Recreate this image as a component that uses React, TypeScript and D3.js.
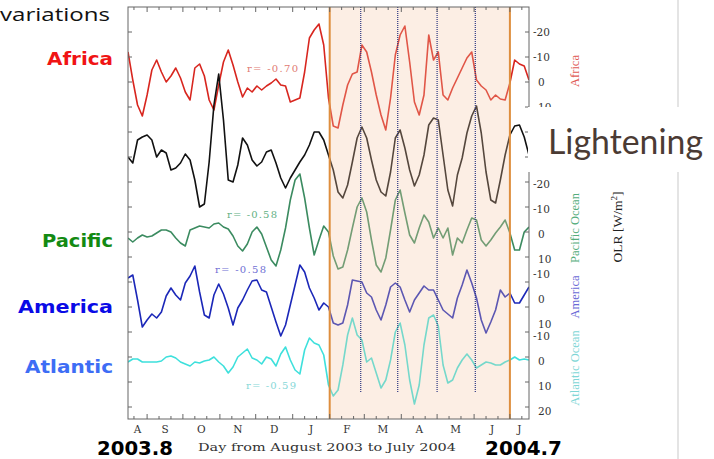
import React from "react";
import * as d3 from "d3";

// sampling: one value every 4 days starting 16 Aug 2003
const START = new Date(2003, 7, 16);
const END = new Date(2004, 6, 17);
const STEP_DAYS = 4;

// OLR anomalies [W/m2] (positive = down on the plot)
const africa = [-12, -0.8, 9.2, 13.6, 5.2, -4.8, -8.8, -4, 0, -2.4, -5.6, -1.6, 4, 7.2, -5.6, -7.2, -2.4, 7.2, 11.2, 1.2, -8, -12.8, -6.8, 0, 6, 2.4, 4, 1.6, 3.2, 1.6, 0.4, -1.2, 1.2, 1.6, 8, 7.2, 6.4, -4, -17.6, -20.8, -23.2, -14.8, 6.4, 17.6, 18.4, 9.2, 1.2, -3.2, -4, -14.8, -12, -4, 5.2, 13.2, 19.2, 6.4, -10.8, -18.8, -22.4, -8, 8, 13.2, 5.2, -18.8, -8.8, -12, 5.2, 7.2, 2.4, -1.6, -5.6, -9.6, -12, -0.8, 1.6, 3.2, 7.2, 5.2, 6.8, 7.2, 0.4, -8.8, -7.2, -6.4, -0.8];
// lightning anomaly (positive = up)
const lightning = [-0.8, -3.2, 6, 7.2, 8, 6, -0.8, 2, 0.8, -6, -5.2, -3.2, 0.4, -2, -10, -20.8, -19.6, -2.8, 20, 32.4, 14, -10, -10.8, -4, 6.8, 4, -2, -4.4, -2.8, 1.2, 2, -3.2, -9.2, -13.2, -9.2, -6, -2.8, 0, 4, 9.2, 9.2, 6, 0, -6, -14.8, -17.2, -12, -2.8, 6.8, 11.2, 6.8, -2, -10, -14.8, -16.4, -6.8, 6.8, 10, 2.8, -6, -12.4, -8, 0, 12, 14.8, 14, 0, -14, -20.4, -8, -1.2, 8.8, 15.6, 19.6, 8.8, -6.8, -18, -19.2, -10, 0, 8, 11.6, 12, 7.2, 0];
const pacific = [1.6, 3.2, 1.6, 0.4, 1.2, 0.8, -0.4, -1.6, -1.6, -0.8, 1.6, 3.6, 4.8, -1.6, -2.4, -3.2, -2.8, -2.4, -4, -4.4, -2.8, -2, 0.8, 4.8, 6.8, 4, -0.8, -2.8, 0, 5.2, 10.4, 12.8, 6.4, -2.4, -13.6, -21.6, -24, -14.4, -2.4, 8.4, 2.4, -3.2, -0.8, 8.8, 14, 13.2, 6.4, -2.4, -10.8, -14.4, -8.8, 2.4, 12.4, 15.2, 9.6, -1.6, -13.6, -17.6, -8.4, 0.4, 3.6, -2.4, -7.6, -4.8, 1.6, -2.4, 1.6, -2.4, 8.4, 1.6, 3.6, -1.6, -6.4, -5.6, 2.4, 4.8, 2.4, -0.4, -2.8, -5.6, -0.4, 6.4, 6.4, -0.8, -2.8];
const america = [-8.4, -9.6, 0.4, 11.2, 8.4, 6, 7.6, 5.2, -1.2, -4.4, -1.6, 0.4, -6.4, -9.2, -13.2, -2.8, 6.4, 7.6, -1.6, -6, -2, 3.6, 10.4, 3.6, 0.4, -3.6, -7.2, -7.6, -3.6, -2.8, 3.2, 9.2, 14.8, 10.4, 2.4, -5.6, -13.6, -10.8, -4.4, -0.4, 4.4, 1.6, 3.2, 9.6, 10.4, 9.6, 2.4, -7.6, -7.2, -6.8, -2.4, -0.8, 4.4, 8.4, 2.4, -4.8, -6.4, -4.8, 0.4, 5.2, 0.4, -2.4, -5.2, -3.6, -3.6, 0.4, 4.4, 6, 7.6, -0.4, -5.6, -11.6, -6.4, -0.4, 8.4, 13.6, 9.2, 4.4, -3.6, -0.8, -2.4, 1.6, 1.6, -1.6, -4.8];
const atlantic = [0.4, -0.8, -0.8, 0.4, 0.4, 0.4, 0.4, 0, -1.6, -2, -1.2, 0.4, 1.2, 2, 0.4, 0.8, 0, -0.4, -1.6, 0.4, 2, 4.8, 2.4, -1.6, -3.2, -4.8, -1.2, -0.4, 1.2, -1.6, -0.8, 2, -2.8, -5.6, -0.4, 3.6, 5.2, -4.4, -9.2, -7.2, -6.4, -2.4, 9.6, 14, 11.6, 1.6, -10.4, -17.2, -10.4, -8.4, 0.4, -1.2, 4.8, 10.8, 7.6, -0.4, -11.6, -15.2, -6.4, 7.6, 17.2, 9.6, -6.4, -17.2, -18.4, -14, 1.6, 8.8, 7.6, 2.8, -0.4, -2.8, -0.4, 2.8, 1.6, 0.4, 0.8, 1.6, 1.6, 0.4, -0.4, -1.6, -0.4, -0.8, -0.4];

const monthLabels = ["A", "S", "O", "N", "D", "J", "F", "M", "A", "M", "J", "J"];
const shadeFrom = new Date(2004, 1, 1);
const shadeTo = new Date(2004, 6, 1);
const eventDates = [new Date(2004, 1, 27), new Date(2004, 2, 29), new Date(2004, 4, 1), new Date(2004, 5, 2)];

const africaTicks = [-20, -10, 0, 10];
const pacificTicks = [-20, -10, 0, 10];
const americaTicks = [-10, 0, 10];
const atlanticTicks = [-10, 0, 10, 20];

const regionNames = ["Africa", "Pacific", "America", "Atlantic"];
const correlations = ["r= -0.70", "r= -0.58", "r= -0.58", "r= -0.59"];

const SERIF = "'DejaVu Serif', 'Liberation Serif', serif";
const BOLD = "'DejaVu Sans', Verdana, sans-serif";

export default function App() {
  const W = 714, H = 459;
  const L = 128, R = 529, T = 7, B = 419;

  const x = d3.scaleTime().domain([START, END]).range([L, R]);
  const dates = africa.map((_, i) => d3.timeDay.offset(START, i * STEP_DAYS));

  const band = (zero: number, dir = 1) => d3.scaleLinear().domain([0, 10]).range([zero, zero + 25 * dir]);

  const series = [
    { key: "africa", values: africa, y: band(82), color: "#d8261f", ticks: africaTicks, label: "Africa", labelColor: "#e05a55", labelY: 71 },
    { key: "lightning", values: lightning, y: band(155, -1), color: "#111111", ticks: [] as number[], label: "", labelColor: "", labelY: 0 },
    { key: "pacific", values: pacific, y: band(234), color: "#3b8b60", ticks: pacificTicks, label: "Pacific Ocean", labelColor: "#55ad7c", labelY: 228 },
    { key: "america", values: america, y: band(299), color: "#1b27b8", ticks: americaTicks, label: "America", labelColor: "#6a6ad6", labelY: 297 },
    { key: "atlantic", values: atlantic, y: band(361), color: "#3ee0dc", ticks: atlanticTicks, label: "Atlantic Ocean", labelColor: "#80d6d6", labelY: 368 },
  ];

  const frameTicks = band(82);
  const sideTickVals = d3.range(-20, 140, 10);

  const dayTicks = d3.timeDay.range(START, END).filter((d) => [1, 11, 21].includes(d.getDate()));
  const months = d3.timeMonth.range(d3.timeMonth.floor(START), END);

  const fmt = (v: number) => (v < 0 ? "-" + Math.abs(v) : String(v));

  return (
    <svg width={W} height={H} style={{ position: "absolute", left: 0, top: 0, background: "#fff" }}>
      <defs>
        <clipPath id="plotClip">
          <rect x={L} y={T} width={R - L} height={B - T} />
        </clipPath>
      </defs>
      <rect width={W} height={H} fill="#fff" />

      {/* slide border */}
      <line x1={678} x2={678} y1={0} y2={H} stroke="#e4e4e4" strokeWidth={2} />

      <g clipPath="url(#plotClip)">
        {series.map((s) => {
          const line = d3
            .line<number>()
            .x((_, i) => x(dates[i]))
            .y((v) => s.y(v));
          return <path key={s.key} d={line(s.values) ?? ""} fill="none" stroke={s.color} strokeWidth={1.6} strokeLinejoin="round" />;
        })}
        {/* shaded period */}
        <rect x={x(shadeFrom)} y={T} width={x(shadeTo) - x(shadeFrom)} height={B - T} fill="rgb(245,200,165)" opacity={0.3} />
      </g>

      {eventDates.map((d, i) => (
        <line key={i} x1={x(d)} x2={x(d)} y1={T} y2={392} stroke="#2a3580" strokeWidth={1.2} strokeDasharray="1 1" />
      ))}
      {[shadeFrom, shadeTo].map((d, i) => (
        <line key={i} x1={x(d)} x2={x(d)} y1={T} y2={B} stroke="#de8e3e" strokeWidth={2} />
      ))}

      {/* frame */}
      <rect x={L} y={T} width={R - L} height={B - T} fill="none" stroke="#666" strokeWidth={1} />
      {sideTickVals.map((v) => (
        <g key={v}>
          <line x1={L} x2={L + 4} y1={frameTicks(v)} y2={frameTicks(v)} stroke="#666" />
          <line x1={R - 4} x2={R} y1={frameTicks(v)} y2={frameTicks(v)} stroke="#666" />
        </g>
      ))}
      {dayTicks.map((d, i) => {
        const len = d.getDate() === 1 ? 5 : 3;
        return (
          <g key={i}>
            <line x1={x(d)} x2={x(d)} y1={B} y2={B - len} stroke="#666" />
            <line x1={x(d)} x2={x(d)} y1={T} y2={T + len} stroke="#666" />
          </g>
        );
      })}

      {/* month labels */}
      {months.map((m, i) => {
        const a = x(m < START ? START : m);
        const nx = d3.timeMonth.offset(m, 1);
        const b = x(nx > END ? END : nx);
        return (
          <text key={i} x={(a + b) / 2} y={433} textAnchor="middle" fontFamily={SERIF} fontSize={10.5} fill="#333">
            {monthLabels[i]}
          </text>
        );
      })}
      <text x={198} y={451} fontFamily={SERIF} fontSize={11} fill="#333" textLength={258} lengthAdjust="spacingAndGlyphs">
        Day from August 2003 to July 2004
      </text>

      {/* right tick labels and vertical series names */}
      {series.map((s) =>
        s.ticks.map((v) => (
          <text key={s.key + v} x={v < 0 ? 533 : 538} y={s.y(v) + 4} fontFamily={SERIF} fontSize={10.5} fill="#333">
            {fmt(v)}
          </text>
        ))
      )}
      {series
        .filter((s) => s.label)
        .map((s) => (
          <text key={s.key + "lab"} transform={`translate(579,${s.labelY}) rotate(-90)`} textAnchor="middle" fontFamily="'Liberation Serif', serif" fontSize={12.5} fill={s.labelColor}>
            {s.label}
          </text>
        ))}
      <text transform="translate(622,227) rotate(-90)" textAnchor="middle" fontFamily="'Liberation Serif', serif" fontSize={13.5} fill="#222">
        OLR [W/m<tspan fontSize={9} dy={-5}>2</tspan>
        <tspan dy={5}>]</tspan>
      </text>

      {/* correlation notes */}
      <text x={247} y={72} fontFamily={SERIF} fontSize={10} fill="#e07a72" textLength={51}>{correlations[0]}</text>
      <text x={227} y={218} fontFamily={SERIF} fontSize={10} fill="#62b083" textLength={50}>{correlations[1]}</text>
      <text x={215} y={273} fontFamily={SERIF} fontSize={10} fill="#6f6fd4" textLength={51}>{correlations[2]}</text>
      <text x={246} y={389} fontFamily={SERIF} fontSize={10} fill="#86d8d8" textLength={50}>{correlations[3]}</text>

      {/* slide annotations */}
      <text x={0} y={21} fontFamily="'Open Sans', sans-serif" fontSize={19} fill="#111" textLength={110} lengthAdjust="spacingAndGlyphs">
        variations
      </text>
      <text x={113} y={64.5} textAnchor="end" fontFamily={BOLD} fontWeight="bold" fontSize={18.5} fill="#f01414" textLength={66} lengthAdjust="spacingAndGlyphs">{regionNames[0]}</text>
      <text x={113} y={246.5} textAnchor="end" fontFamily={BOLD} fontWeight="bold" fontSize={18.5} fill="#138a13" textLength={71} lengthAdjust="spacingAndGlyphs">{regionNames[1]}</text>
      <text x={113} y={312.5} textAnchor="end" fontFamily={BOLD} fontWeight="bold" fontSize={18.5} fill="#0a0ae6" textLength={95} lengthAdjust="spacingAndGlyphs">{regionNames[2]}</text>
      <text x={113} y={373} textAnchor="end" fontFamily={BOLD} fontWeight="bold" fontSize={18.5} fill="#3d6df5" textLength={88} lengthAdjust="spacingAndGlyphs">{regionNames[3]}</text>
      <text x={97} y={454.5} fontFamily={BOLD} fontWeight="bold" fontSize={19} fill="#000" textLength={76} lengthAdjust="spacingAndGlyphs">2003.8</text>
      <text x={485} y={454.5} fontFamily={BOLD} fontWeight="bold" fontSize={19} fill="#000" textLength={77} lengthAdjust="spacingAndGlyphs">2004.7</text>

      {/* Lightening callout */}
      <rect x={528} y={107} width={W - 528} height={65} fill="#fff" />
      <text x={548} y={154} fontFamily="Lato, 'Open Sans', sans-serif" fontSize={35} fill="#4b3b34" textLength={155} lengthAdjust="spacingAndGlyphs">
        Lightening
      </text>
    </svg>
  );
}
